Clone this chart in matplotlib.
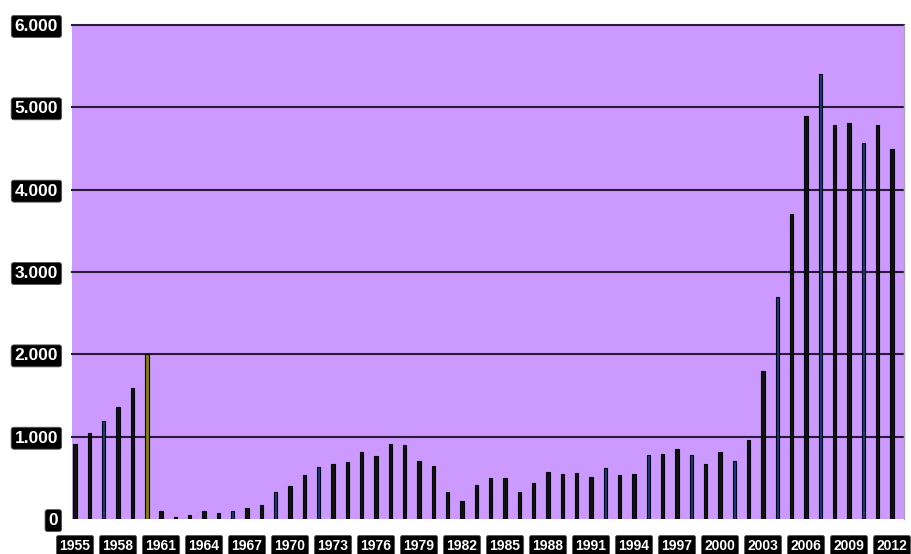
"""
Yearly totals 1955-2012 as thin bars on a purple panel,
tick labels drawn as white text on black boxes.
"""

import matplotlib
matplotlib.use("Agg")
import matplotlib.pyplot as plt
from matplotlib.ticker import FixedLocator

# ── Data ──────────────────────────────────────────────────────────────────────

years = list(range(1955, 2013))
values = [
    910, 1050, 1195, 1355, 1595, 2000, 100, 30, 50, 100,      # 1955-1964
    70, 100, 140, 170, 330, 405, 530, 630, 675, 695,          # 1965-1974
    820, 770, 910, 900, 710, 640, 325, 215, 415, 500,         # 1975-1984
    500, 330, 440, 570, 550, 560, 510, 620, 530, 550,         # 1985-1994
    780, 790, 850, 780, 665, 810, 710, 960, 1795, 2700,       # 1995-2004
    3710, 4900, 5400, 4790, 4810, 4565, 4790, 4490,           # 2005-2012
]
y_ticks = [0, 1000, 2000, 3000, 4000, 5000, 6000]
y_tick_labels = ["0", "1.000", "2.000", "3.000", "4.000", "5.000", "6.000"]
x_ticks = list(range(1955, 2013, 3))

# ── Style ─────────────────────────────────────────────────────────────────────

PANEL = "#cc99ff"
BAR_BLACK = "#111111"
BAR_BLUE = "#1f3b86"
BAR_GOLD = "#8c7f00"
blue_years = {1957, 1966, 1969, 1972, 1992, 1995, 1998, 2001, 2004, 2007, 2010}
gold_years = {1960}

FONT = ["Liberation Sans", "DejaVu Sans"]


def bar_color(year):
    if year in gold_years:
        return BAR_GOLD
    if year in blue_years:
        return BAR_BLUE
    return BAR_BLACK


def main():
    fig = plt.figure(figsize=(9.12, 5.54), dpi=100)
    ax = fig.add_axes([0.079, 0.063, 0.912, 0.892])
    ax.set_facecolor(PANEL)

    colors = [bar_color(y) for y in years]
    widths = [0.28 if y in gold_years else 0.22 for y in years]
    ax.bar(years, values, width=widths, color=colors,
           edgecolor="#000000", linewidth=0.8, zorder=3)

    # horizontal gridlines
    for v in y_ticks[1:]:
        ax.axhline(v, color="#2a1a3a", linewidth=1.5, zorder=2, clip_on=False)

    ax.set_xlim(1954.79, 2012.82)
    ax.set_ylim(0, 6000)

    ax.yaxis.set_major_locator(FixedLocator(y_ticks))
    ax.set_yticklabels(y_tick_labels)
    ax.xaxis.set_major_locator(FixedLocator(x_ticks))
    ax.set_xticklabels([str(y) for y in x_ticks])

    ax.tick_params(axis="both", length=0)
    ax.tick_params(axis="y", pad=10)
    ax.tick_params(axis="x", pad=14)

    for lab in ax.get_yticklabels():
        lab.set_fontfamily(FONT)
        lab.set_fontsize(12.5)
        lab.set_fontweight("bold")
        lab.set_color("white")
        lab.set_bbox(dict(boxstyle="round,pad=0.2,rounding_size=0.15",
                          facecolor="black", edgecolor="#555555", linewidth=0.6))
    for lab in ax.get_xticklabels():
        lab.set_fontfamily(FONT)
        lab.set_fontsize(10)
        lab.set_fontweight("bold")
        lab.set_color("white")
        lab.set_bbox(dict(boxstyle="round,pad=0.22,rounding_size=0.15",
                          facecolor="black", edgecolor="#555555", linewidth=0.6))

    for side in ["left", "bottom", "top"]:
        ax.spines[side].set_visible(False)
    ax.spines["right"].set_color("#aaaaaa")
    ax.spines["right"].set_linewidth(1.0)

    fig.savefig("out.png", dpi=100, facecolor="white")


if __name__ == "__main__":
    main()
